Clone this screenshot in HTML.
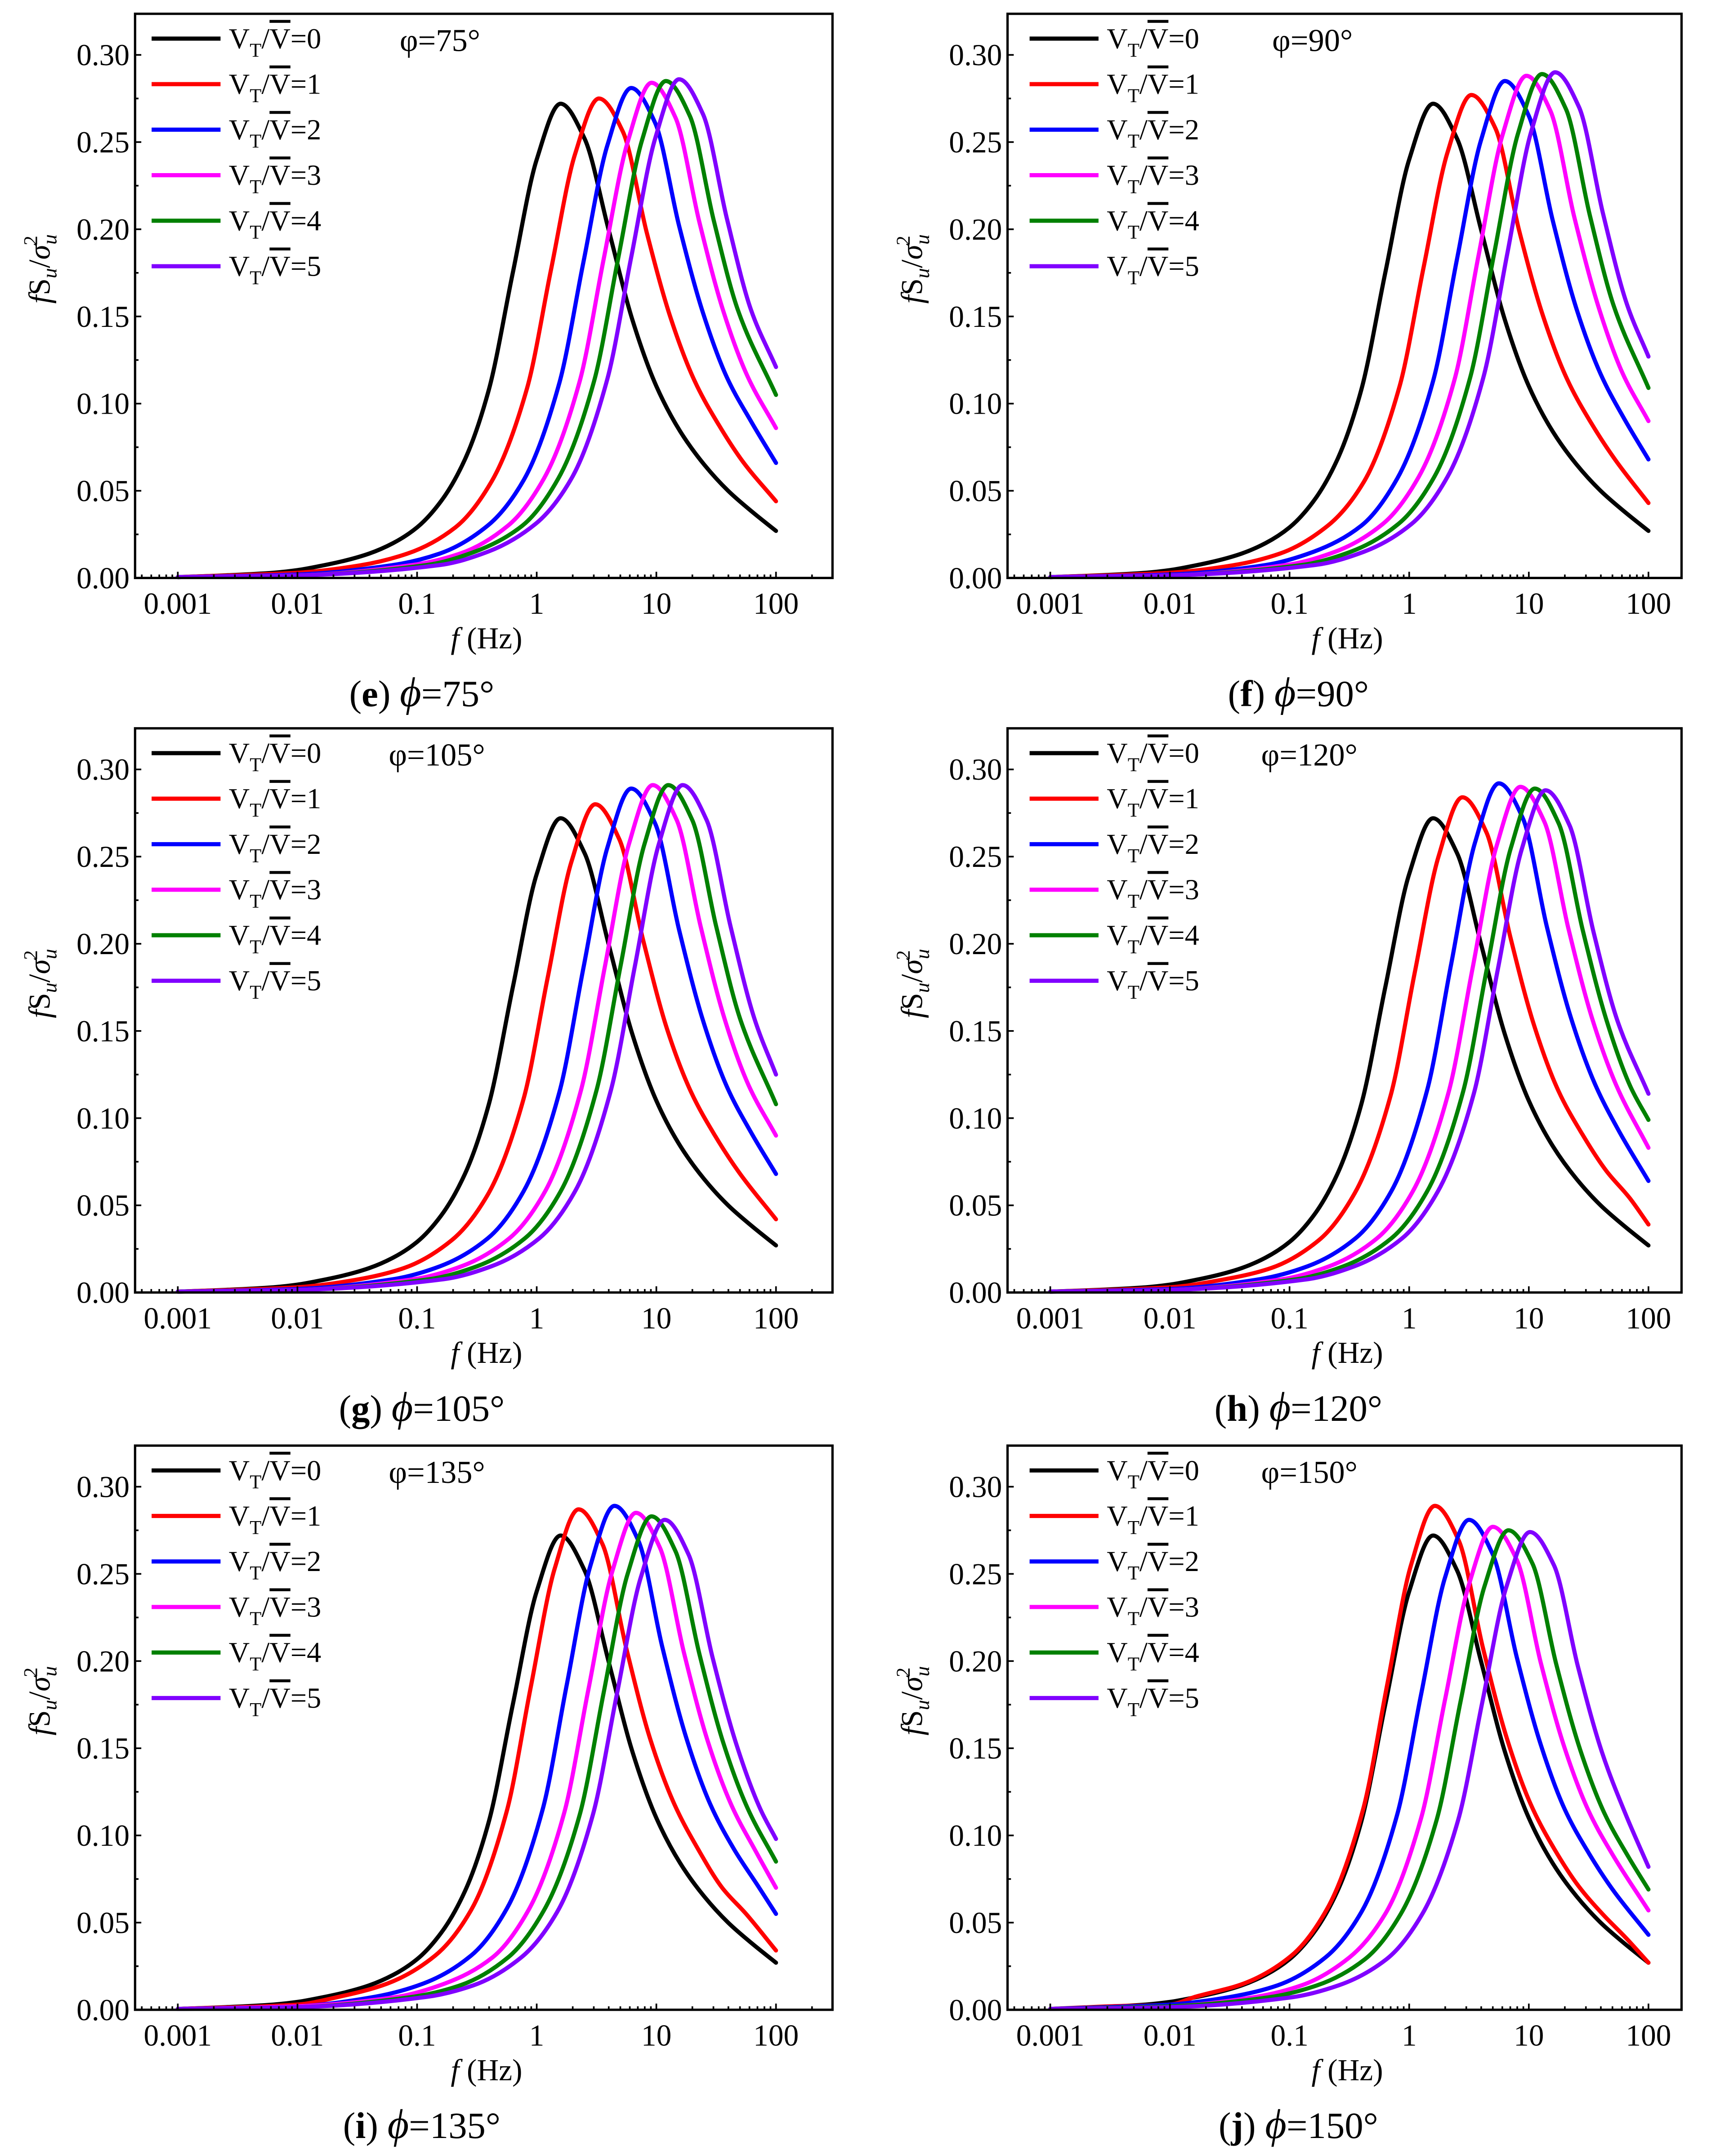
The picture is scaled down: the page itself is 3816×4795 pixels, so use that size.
<!DOCTYPE html>
<html><head><meta charset="utf-8">
<style>
html,body{margin:0;padding:0;background:#fff;}
svg{display:block;}
text{font-family:"Liberation Serif","DejaVu Serif",serif;fill:#000;}
</style></head>
<body>
<svg id="fig" width="3816" height="4795" viewBox="0 0 1245 1563" preserveAspectRatio="none" xmlns="http://www.w3.org/2000/svg"></svg>
<script>
// ---- data (log10 of frequency in Hz, and fS_u/sigma_u^2 values) ----
const seriesLabels = ["0","1","2","3","4","5"];
const seriesColors = ["#000000","#ff0000","#0000ff","#ff00ff","#008000","#8000ff"];
const yTicks = [0,0.05,0.10,0.15,0.20,0.25,0.30];
const yTickLabels = ["0.00","0.05","0.10","0.15","0.20","0.25","0.30"];
const xTicks = [-3,-2,-1,0,1,2];
const xTickLabels = ["0.001","0.01","0.1","1","10","100"];
const panelIds = ["e","f","g","h","i","j"];
const panelAngles = ["75","90","105","120","135","150"];

const blackX = [-3,-2.6,-2.2,-2.0,-1.8,-1.6,-1.4,-1.2,-1.0,-0.8,-0.6,-0.4,-0.2,0,0.2,0.4,0.6,0.8,1.0,1.2,1.4,1.6,1.8,2];
const blackY = [0.0005,0.0015,0.003,0.0045,0.007,0.010,0.014,0.020,0.029,0.044,0.068,0.108,0.175,0.240,0.272,0.252,0.200,0.148,0.110,0.084,0.065,0.050,0.038,0.027];

const e_x = [blackX,
 [-3,-2,-1.48,-1.08,-0.68,-0.38,-0.08,0.12,0.32,0.52,0.72,0.92,1.12,1.32,1.52,1.72,2],
 [-3,-2,-1.21,-0.81,-0.41,-0.11,0.19,0.39,0.59,0.79,0.99,1.19,1.39,1.59,1.79,2],
 [-3,-2,-1.04,-0.64,-0.24,0.06,0.36,0.56,0.76,0.96,1.16,1.36,1.56,1.76,2],
 [-3,-2,-0.92,-0.52,-0.12,0.18,0.48,0.68,0.88,1.08,1.28,1.48,1.68,2],
 [-3,-2,-0.81,-0.41,-0.01,0.29,0.59,0.79,0.99,1.19,1.39,1.59,1.79,2]];
const e_y = [blackY,
 [0.0005,0.003,0.0072,0.014,0.029,0.055,0.109,0.177,0.243,0.275,0.256,0.198,0.149,0.113,0.088,0.067,0.044],
 [0.0005,0.002,0.0073,0.014,0.030,0.056,0.112,0.181,0.248,0.281,0.261,0.202,0.152,0.115,0.090,0.066],
 [0.0005,0.0015,0.0074,0.014,0.030,0.057,0.113,0.183,0.250,0.284,0.264,0.204,0.153,0.116,0.086],
 [0.0005,0.0015,0.0074,0.015,0.030,0.057,0.113,0.183,0.251,0.285,0.265,0.205,0.154,0.105],
 [0.0005,0.0015,0.0074,0.015,0.031,0.057,0.114,0.184,0.252,0.286,0.266,0.206,0.154,0.121]];

const f_x = [blackX,
 [-3,-2,-1.48,-1.08,-0.68,-0.38,-0.08,0.12,0.32,0.52,0.72,0.92,1.12,1.32,1.52,1.72,2],
 [-3,-2,-1.2,-0.8,-0.4,-0.1,0.2,0.4,0.6,0.8,1.0,1.2,1.4,1.6,1.8,2],
 [-3,-2,-1.02,-0.62,-0.22,0.08,0.38,0.58,0.78,0.98,1.18,1.38,1.58,1.78,2],
 [-3,-2,-0.89,-0.49,-0.09,0.21,0.51,0.71,0.91,1.11,1.31,1.51,1.71,2],
 [-3,-2,-0.78,-0.38,0.02,0.32,0.62,0.82,1.02,1.22,1.42,1.62,1.82,2]];
const f_y = [blackY,
 [0.0005,0.003,0.0072,0.014,0.030,0.055,0.110,0.178,0.244,0.277,0.258,0.199,0.150,0.114,0.089,0.068,0.043],
 [0.0005,0.002,0.0074,0.015,0.030,0.057,0.113,0.183,0.251,0.285,0.265,0.205,0.154,0.117,0.091,0.068],
 [0.0005,0.0015,0.0075,0.015,0.031,0.058,0.114,0.185,0.254,0.288,0.268,0.207,0.156,0.118,0.090],
 [0.0005,0.0015,0.0075,0.015,0.031,0.058,0.115,0.186,0.255,0.289,0.269,0.208,0.156,0.109],
 [0.0005,0.0015,0.0075,0.015,0.031,0.058,0.115,0.186,0.256,0.290,0.270,0.209,0.157,0.127]];

const g_x = [blackX,
 [-3,-2,-1.51,-1.11,-0.71,-0.41,-0.11,0.09,0.29,0.49,0.69,0.89,1.09,1.29,1.49,1.69,2],
 [-3,-2,-1.21,-0.81,-0.41,-0.11,0.19,0.39,0.59,0.79,0.99,1.19,1.39,1.59,1.79,2],
 [-3,-2,-1.03,-0.63,-0.23,0.07,0.37,0.57,0.77,0.97,1.17,1.37,1.57,1.77,2],
 [-3,-2,-0.9,-0.5,-0.1,0.2,0.5,0.7,0.9,1.1,1.3,1.5,1.7,2],
 [-3,-2,-0.78,-0.38,0.02,0.32,0.62,0.82,1.02,1.22,1.42,1.62,1.82,2]];
const g_y = [blackY,
 [0.0005,0.003,0.0073,0.014,0.030,0.056,0.111,0.180,0.247,0.280,0.260,0.202,0.151,0.115,0.090,0.069,0.042],
 [0.0005,0.002,0.0075,0.015,0.031,0.058,0.115,0.186,0.255,0.289,0.269,0.208,0.156,0.118,0.092,0.068],
 [0.0005,0.0015,0.0076,0.015,0.031,0.058,0.116,0.187,0.257,0.291,0.271,0.210,0.157,0.119,0.090],
 [0.0005,0.0015,0.0076,0.015,0.031,0.058,0.116,0.187,0.257,0.291,0.271,0.210,0.157,0.108],
 [0.0005,0.0015,0.0076,0.015,0.031,0.058,0.116,0.187,0.257,0.291,0.271,0.210,0.157,0.125]];

const h_x = [blackX,
 [-3,-2,-1.555,-1.155,-0.755,-0.455,-0.155,0.045,0.245,0.445,0.645,0.845,1.045,1.245,1.445,1.645,1.845,2],
 [-3,-2,-1.25,-0.85,-0.45,-0.15,0.15,0.35,0.55,0.75,0.95,1.15,1.35,1.55,1.75,2],
 [-3,-2,-1.07,-0.67,-0.27,0.03,0.33,0.53,0.73,0.93,1.13,1.33,1.53,1.73,2],
 [-3,-2,-0.95,-0.55,-0.15,0.15,0.45,0.65,0.85,1.05,1.25,1.45,1.65,1.85,2],
 [-3,-2,-0.86,-0.46,-0.06,0.24,0.54,0.74,0.94,1.14,1.34,1.54,1.74,2]];
const h_y = [blackY,
 [0.0005,0.003,0.0074,0.014,0.030,0.057,0.113,0.183,0.250,0.284,0.264,0.204,0.153,0.116,0.091,0.070,0.054,0.039],
 [0.0005,0.002,0.0076,0.015,0.031,0.058,0.116,0.188,0.258,0.292,0.272,0.210,0.158,0.120,0.093,0.064],
 [0.0005,0.0015,0.0075,0.015,0.031,0.058,0.115,0.186,0.256,0.290,0.270,0.209,0.157,0.119,0.083],
 [0.0005,0.0015,0.0075,0.015,0.031,0.058,0.115,0.186,0.255,0.289,0.269,0.208,0.156,0.118,0.099],
 [0.0005,0.0015,0.0075,0.015,0.031,0.058,0.114,0.185,0.254,0.288,0.268,0.207,0.156,0.114]];

const i_x = [blackX,
 [-3,-2,-1.65,-1.25,-0.85,-0.55,-0.25,-0.05,0.15,0.35,0.55,0.75,0.95,1.15,1.35,1.55,1.75,2],
 [-3,-2,-1.35,-0.95,-0.55,-0.25,0.05,0.25,0.45,0.65,0.85,1.05,1.25,1.45,1.65,1.85,2],
 [-3,-2,-1.17,-0.77,-0.37,-0.07,0.23,0.43,0.63,0.83,1.03,1.23,1.43,1.63,1.83,2],
 [-3,-2,-1.04,-0.64,-0.24,0.06,0.36,0.56,0.76,0.96,1.16,1.36,1.56,1.76,2],
 [-3,-2,-0.93,-0.53,-0.13,0.17,0.47,0.67,0.87,1.07,1.27,1.47,1.67,1.87,2]];
const i_y = [blackY,
 [0.0005,0.003,0.0075,0.015,0.031,0.057,0.114,0.185,0.253,0.287,0.267,0.207,0.155,0.118,0.092,0.070,0.055,0.034],
 [0.0005,0.002,0.0075,0.015,0.031,0.058,0.115,0.186,0.255,0.289,0.269,0.208,0.156,0.118,0.092,0.071,0.055],
 [0.0005,0.002,0.0074,0.015,0.030,0.057,0.113,0.183,0.251,0.285,0.265,0.205,0.154,0.117,0.091,0.070],
 [0.0005,0.0015,0.0074,0.014,0.030,0.057,0.112,0.182,0.250,0.283,0.263,0.204,0.153,0.116,0.085],
 [0.0005,0.0015,0.0073,0.014,0.030,0.056,0.112,0.181,0.248,0.281,0.261,0.202,0.152,0.115,0.098]];

const j_x = [blackX,
 [-3,-2.5,-2,-1.785,-1.385,-0.985,-0.685,-0.385,-0.185,0.015,0.215,0.415,0.615,0.815,1.015,1.215,1.415,1.615,1.815,2],
 [-3,-2,-1.5,-1.1,-0.7,-0.4,-0.1,0.1,0.3,0.5,0.7,0.9,1.1,1.3,1.5,1.7,2],
 [-3,-2,-1.3,-0.9,-0.5,-0.2,0.1,0.3,0.5,0.7,0.9,1.1,1.3,1.5,1.7,2],
 [-3,-2,-1.17,-0.77,-0.37,-0.07,0.23,0.43,0.63,0.83,1.03,1.23,1.43,1.63,1.83,2],
 [-3,-2,-0.99,-0.59,-0.19,0.11,0.41,0.61,0.81,1.01,1.21,1.41,1.61,1.81,2]];
const j_y = [blackY,
 [0.0005,0.002,0.003,0.0075,0.015,0.031,0.058,0.115,0.186,0.255,0.289,0.269,0.208,0.156,0.118,0.092,0.071,0.055,0.041,0.027],
 [0.0005,0.003,0.0073,0.014,0.030,0.056,0.112,0.181,0.248,0.281,0.261,0.202,0.152,0.115,0.090,0.069,0.043],
 [0.0005,0.002,0.0072,0.014,0.030,0.055,0.110,0.178,0.244,0.277,0.258,0.199,0.150,0.114,0.089,0.057],
 [0.0005,0.002,0.0072,0.014,0.029,0.055,0.109,0.177,0.243,0.275,0.256,0.198,0.149,0.113,0.088,0.069],
 [0.0005,0.0015,0.0071,0.014,0.029,0.055,0.109,0.176,0.242,0.274,0.255,0.197,0.148,0.112,0.082]];

const allX = [e_x,f_x,g_x,h_x,i_x,j_x];
const allY = [e_y,f_y,g_y,h_y,i_y,j_y];

// ---- layout ----
const NS = "http://www.w3.org/2000/svg";
const svg = document.getElementById("fig");
function mk(tag, attrs, parent){
  const el = document.createElementNS(NS, tag);
  for (const k in attrs) el.setAttribute(k, attrs[k]);
  (parent||svg).appendChild(el);
  return el;
}
const cols = [{bx0:98,bx1:604,x0:129},{bx0:731,bx1:1220,x0:762}];
const rowsDy = [0,518,1038];
const DEC = 86.8, YUNIT = 1264;

function monotonePath(px, py){
  const n = px.length;
  const d = [], m = new Array(n);
  for (let k=0;k<n-1;k++) d.push((py[k+1]-py[k])/(px[k+1]-px[k]));
  m[0]=d[0]; m[n-1]=d[n-2];
  for (let k=1;k<n-1;k++){
    if (d[k-1]*d[k] <= 0) m[k]=0;
    else { const w1=2*(px[k+1]-px[k])+(px[k]-px[k-1]), w2=(px[k+1]-px[k])+2*(px[k]-px[k-1]);
      m[k]=(w1+w2)/(w1/d[k-1]+w2/d[k]); }
  }
  let s = "M"+px[0].toFixed(2)+","+py[0].toFixed(2);
  for (let k=0;k<n-1;k++){
    const h=(px[k+1]-px[k])/3;
    s += " C"+(px[k]+h).toFixed(2)+","+(py[k]+m[k]*h).toFixed(2)+" "+(px[k+1]-h).toFixed(2)+","+(py[k+1]-m[k+1]*h).toFixed(2)+" "+px[k+1].toFixed(2)+","+py[k+1].toFixed(2);
  }
  return s;
}

panelIds.forEach((pid, p) => {
  const col = cols[p%2], dy = rowsDy[Math.floor(p/2)];
  const top = 10+dy, y0 = 419+dy;
  const xs = v => col.x0 + (v+3)*DEC;
  const ys = v => y0 - v*YUNIT;
  const g = mk("g", {});
  
  

  const cg = mk("g", {fill:"none","stroke-width":"3","stroke-linejoin":"round","stroke-linecap":"round"}, g);
  allX[p].forEach((arr, s) => {
    const px = arr.map(xs), py = allY[p][s].map(ys);
    const path = mk("path", {d:monotonePath(px,py), stroke:seriesColors[s]}, cg);
    
    
  });

  const frame = mk("rect", {x:col.bx0, y:top, width:col.bx1-col.bx0, height:y0-top, fill:"none", stroke:"#000","stroke-width":"1.7"}, g);
  
  

  yTicks.forEach((t, k) => {
    mk("line",{x1:col.bx0,x2:col.bx0+4.5,y1:ys(t),y2:ys(t),stroke:"#000","stroke-width":"1.2"},g);
    if (k < yTicks.length-1) { const ym = ys(t+0.025); mk("line",{x1:col.bx0,x2:col.bx0+2.5,y1:ym,y2:ym,stroke:"#000","stroke-width":"1.2"},g); }
    const lb = mk("text",{x:col.bx0-4,y:ys(t)+7.5,"text-anchor":"end","font-size":"22"},g);
    lb.textContent = yTickLabels[k];
    
    
  });
  const lo = (col.bx0-col.x0)/DEC-3, hi = (col.bx1-col.x0)/DEC-3;
  for (let dec=-4; dec<=2; dec++){
    for (let mlt=1; mlt<=9; mlt++){
      const lv = dec+Math.log10(mlt);
      if (lv<=lo+0.01 || lv>=hi-0.01) continue;
      const len = mlt===1?4.5:2.5;
      mk("line",{x1:xs(lv),x2:xs(lv),y1:y0,y2:y0-len,stroke:"#000","stroke-width":"1.2"},g);
    }
  }
  xTicks.forEach((t,k)=>{
    const lb = mk("text",{x:xs(t),y:y0+26,"text-anchor":"middle","font-size":"22"},g);
    lb.textContent = xTickLabels[k];
    
    
  });

  const cx = (col.bx0+col.bx1)/2;
  const xt = mk("text",{x:cx+2,y:y0+51,"text-anchor":"middle","font-size":"22"},g);
  xt.innerHTML = '<tspan font-style="italic">f</tspan> (Hz)';
  
  
  const ytx = col.bx0-62, yty = dy+195;
  const yt = mk("text",{x:ytx,y:yty,"text-anchor":"middle","font-size":"22",transform:"rotate(-90 "+ytx+" "+yty+")"},g);
  yt.innerHTML = '<tspan font-style="italic">f</tspan>S<tspan font-style="italic" font-size="15" dy="5">u</tspan><tspan dy="-5">/</tspan><tspan font-style="italic">σ</tspan><tspan font-style="italic" font-size="15" dy="5">u</tspan><tspan font-size="14" dx="-8" dy="-14">2</tspan>';
  
  

  const lx = col.bx0 + (p%2===0 ? 12 : 16);
  seriesLabels.forEach((lab, s) => {
    const ly = 28+dy+s*33;
    const ln = mk("line",{x1:lx,x2:lx+50,y1:ly,y2:ly,stroke:seriesColors[s],"stroke-width":"3"},g);
    
    
    const tx = mk("text",{x:lx+56,y:ly+7,"font-size":"21"},g);
    tx.innerHTML = 'V<tspan font-size="14" dy="6">T</tspan><tspan dy="-6">/</tspan><tspan text-decoration="overline">V</tspan>='+lab;
    
    
  });
  const ph = mk("text",{x:col.bx0 + (panelAngles[p].length>2?184:192),y:37+dy,"font-size":"23"},g);
  ph.textContent = "φ="+panelAngles[p]+"°";
  
  
  const cap = mk("text",{x:(p%2===0?306:942),y:y0+93,"text-anchor":"middle","font-size":"27"},g);
  cap.innerHTML = '(<tspan font-weight="bold">'+pid+'</tspan>)  <tspan font-style="italic" font-size="30">ϕ</tspan>='+panelAngles[p]+'°';
  
  
});
</script>
</body></html>
